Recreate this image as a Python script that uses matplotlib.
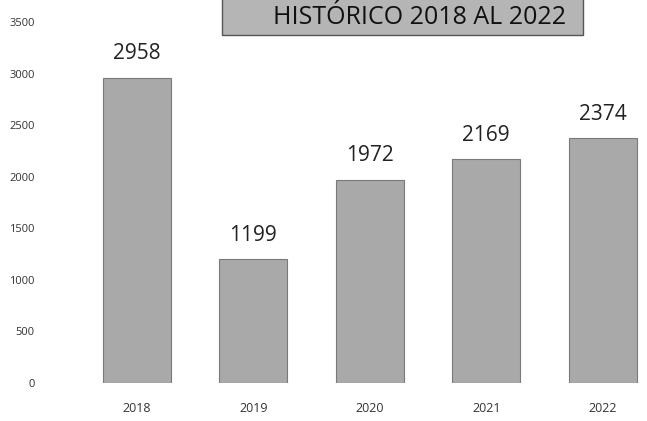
import matplotlib.pyplot as plt
from matplotlib.patches import Rectangle

years = ['2018', '2019', '2020', '2021', '2022']
totals = [2958, 1199, 1972, 2169, 2374]
yticks = [0, 500, 1000, 1500, 2000, 2500, 3000, 3500]

plt.rcParams['font.family'] = ['Open Sans', 'DejaVu Sans']

fig = plt.figure(figsize=(6.47, 4.21), dpi=100)
ax = fig.add_axes([75/647, 1 - 383/421, 565/647, 361/421])

x = range(len(years))
ax.bar(x, totals, width=0.58, color='#a9a9a9', edgecolor='#7a7a7a', linewidth=0.8)

for xi, v in zip(x, totals):
    ax.text(xi, v + 130, str(v), ha='center', va='bottom', fontsize=15, color='#222222')

ax.set_xlim(-0.53, 4.32)
ax.set_ylim(0, 3500)
ax.set_xticks(list(x))
ax.set_xticklabels(years, fontsize=9, color='#333333')
ax.set_yticks(yticks)
ax.set_yticklabels([str(t) for t in yticks], fontsize=8, color='#333333')
ax.tick_params(axis='x', length=0, pad=14)
ax.tick_params(axis='y', length=0, pad=29)

for s in ax.spines.values():
    s.set_visible(False)

# title box at the top
fig.patches.append(Rectangle((222/647, 1 - 35/421), 361/647, 40/421, transform=fig.transFigure,
                             facecolor='#b5b5b5', edgecolor='#555555', linewidth=1.0, zorder=0))
fig.text(420/647, 1 - 18/421, 'HISTÓRICO 2018 AL 2022', ha='center', va='center',
         fontsize=18, color='#111111')

fig.savefig('out.png', dpi=100)
